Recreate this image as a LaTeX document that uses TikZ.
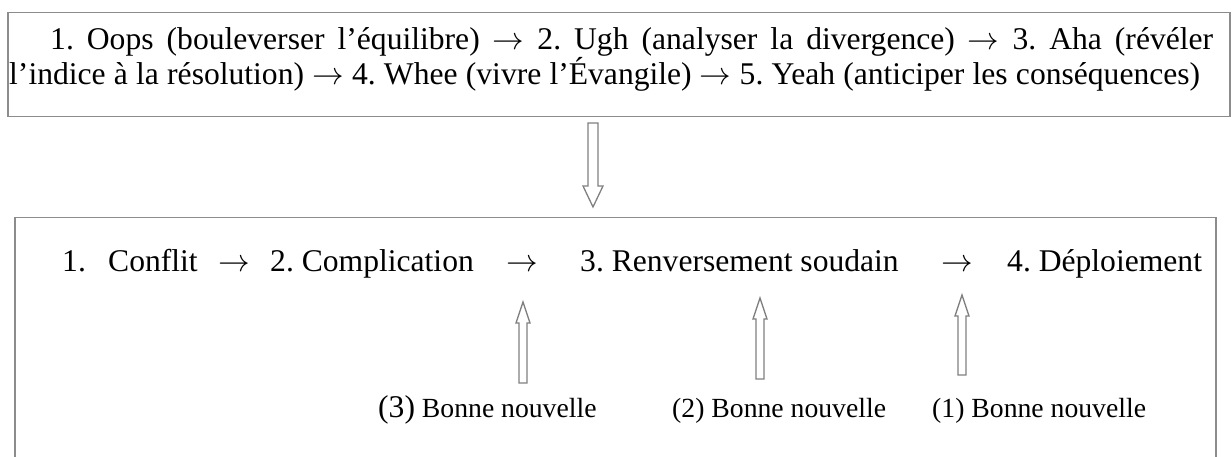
\RequirePackage{fix-cm}
\documentclass[tikz,border=0pt]{standalone}
\usepackage{fontspec}
\setmainfont{Liberation Serif}
\usetikzlibrary{calc}
\frenchspacing
\definecolor{boxgray}{RGB}{140,140,140}
\definecolor{arrgray}{RGB}{128,128,128}
\newcommand\ra{$\rightarrow$}
\newcommand\myupblock[2]{%
  \draw[blockarr] ([xshift=-4pt]#1) -- ([xshift=4pt]#1) -- ([xshift=4pt,yshift=-21pt]#2) -- ([xshift=7pt,yshift=-21pt]#2) -- (#2) -- ([xshift=-7pt,yshift=-21pt]#2) -- ([xshift=-4pt,yshift=-21pt]#2) -- cycle;}
\newcommand\mydownblock[2]{%
  \draw[blockarr] ([xshift=-5pt]#1) -- ([xshift=5pt]#1) -- ([xshift=5pt,yshift=21pt]#2) -- ([xshift=10pt,yshift=21pt]#2) -- (#2) -- ([xshift=-10pt,yshift=21pt]#2) -- ([xshift=-5pt,yshift=21pt]#2) -- cycle;}
\begin{document}
\begin{tikzpicture}[x=1pt,y=-1pt,
  framebox/.style={draw=boxgray, line width=1.5pt, inner sep=0pt, anchor=north west},
  blockarr/.style={draw=arrgray, line width=1.3pt, line join=miter, fill=white},
  maintext/.style={anchor=base west, inner sep=0pt, font=\fontsize{31.6}{36}\selectfont\frenchspacing},
  labeltext/.style={anchor=base west, inner sep=0pt, font=\fontsize{27.7}{32}\selectfont}]
\clip (0,0) rectangle (1232,457);
\fill[white] (0,0) rectangle (1232,457);
% top box
\node[framebox, minimum width=1222pt, minimum height=104pt] (topbox) at (7,12) {};
\node[maintext] (topline1) at (50,50) {\makebox[1163pt][s]{1. Oops (bouleverser l’équilibre) \ra{} 2. Ugh (analyser la divergence) \ra{} 3. Aha (révéler}};
\node[maintext] (topline2) at (9,85) {\makebox[1191pt][s]{l’indice à la résolution) \ra{} 4. Whee (vivre l’Évangile) \ra{} 5. Yeah (anticiper les conséquences)}};
% bottom box
\node[framebox, minimum width=1201pt, minimum height=300pt] (botbox) at (14,217) {};
\node[maintext] (n1num) at (62,272) {1.};
\node[maintext] (n1) at (108,272) {Conflit};
\node[maintext] (a1) at (218,272) {\ra};
\node[maintext] (n2) at (270,272) {2. Complication};
\node[maintext] (a2) at (506,272) {\ra};
\node[maintext] (n3) at (580,272) {3. Renversement soudain};
\node[maintext] (a3) at (941,272) {\ra};
\node[maintext] (n4) at (1007,272) {4. Déploiement};
% labels
\node[labeltext] (b3) at (378,417) {{\fontsize{31.6}{36}\selectfont(3)} Bonne nouvelle};
\node[labeltext] (b2) at (672,417) {(2) Bonne nouvelle};
\node[labeltext] (b1) at (932,417) {(1) Bonne nouvelle};
% arrow coordinates
\coordinate (dtop) at (593,123);
\coordinate (dtip) at (593,207);
\coordinate (u1b) at (523,383);
\coordinate (u1t) at (523,302);
\coordinate (u2b) at (760,379);
\coordinate (u2t) at (760,298);
\coordinate (u3b) at (962,375);
\coordinate (u3t) at (962,295);
\mydownblock{dtop}{dtip}
\myupblock{u1b}{u1t}
\myupblock{u2b}{u2t}
\myupblock{u3b}{u3t}
\end{tikzpicture}
\end{document}
